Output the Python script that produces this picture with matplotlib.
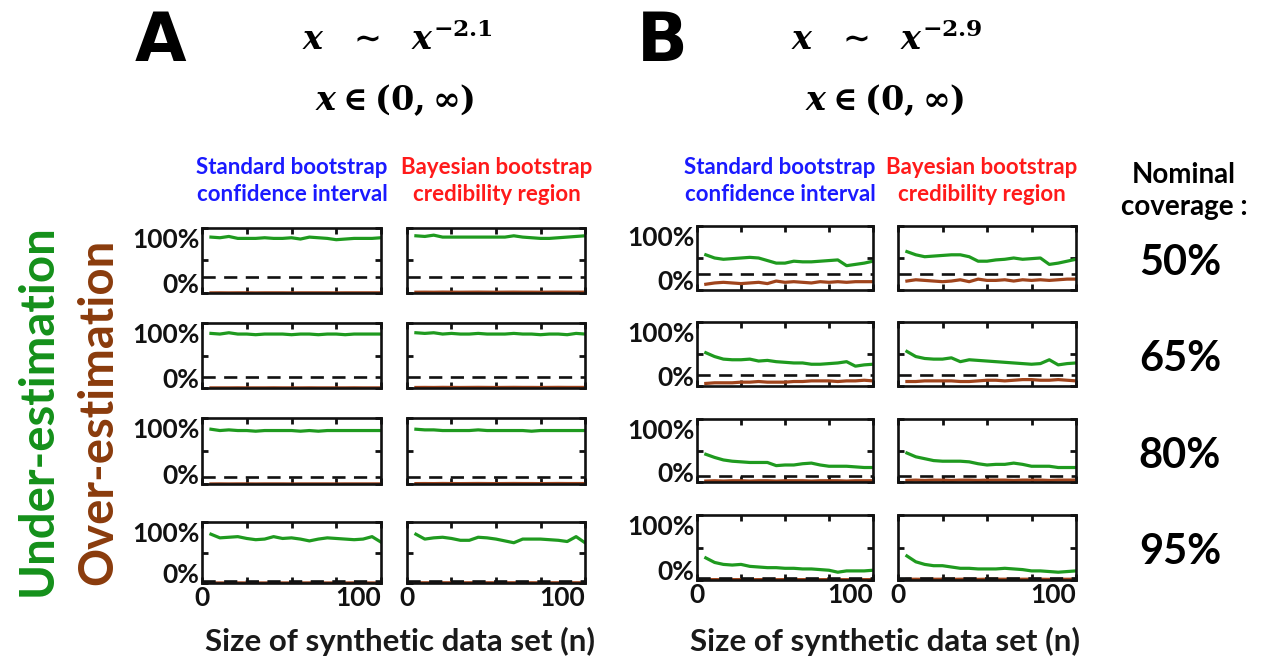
import matplotlib
matplotlib.use("Agg")
import matplotlib.pyplot as plt

plt.rcParams['font.family'] = ['Lato', 'DejaVu Sans']
plt.rcParams['font.weight'] = 'bold'
plt.rcParams['mathtext.fontset'] = 'custom'
plt.rcParams['mathtext.it'] = 'DejaVu Serif:italic:bold'
plt.rcParams['mathtext.rm'] = 'DejaVu Serif:bold'
plt.rcParams['mathtext.bf'] = 'DejaVu Serif:bold'

# sample sizes of the synthetic data sets
n = [5, 10, 15, 20, 25, 30, 35, 40, 45, 50, 55, 60, 65, 70, 75, 80, 85, 90, 95, 100]
coverage = [50, 65, 80, 95]
coverage_labels = ["50%", "65%", "80%", "95%"]

# Panel A  (x ~ x^-2.1), under-estimation (green) rates in %
A_std_under_50 = [86, 85, 87, 84, 84, 84, 85, 84, 84, 85, 83, 86, 85, 84, 82, 83, 84, 84, 84, 85]
A_bay_under_50 = [88, 87, 89, 86, 86, 86, 86, 86, 86, 86, 86, 88, 86, 85, 84, 84, 85, 86, 87, 88]
A_std_under_65 = [84, 83, 85, 83, 83, 82, 83, 83, 83, 82, 83, 83, 82, 83, 83, 82, 83, 83, 83, 83]
A_bay_under_65 = [85, 84, 85, 83, 84, 83, 83, 84, 83, 83, 83, 84, 83, 83, 82, 83, 83, 82, 84, 83]
A_std_under_80 = [83, 81, 82, 81, 81, 80, 81, 81, 81, 81, 80, 81, 80, 81, 81, 81, 81, 81, 81, 81]
A_bay_under_80 = [83, 82, 82, 81, 81, 81, 81, 82, 81, 81, 81, 81, 81, 80, 81, 81, 81, 81, 81, 81]
A_std_under_95 = [80, 74, 75, 76, 73, 71, 72, 76, 73, 74, 72, 69, 72, 74, 73, 72, 71, 72, 76, 67]
A_bay_under_95 = [80, 72, 74, 75, 73, 70, 70, 75, 74, 72, 69, 66, 72, 72, 72, 71, 70, 68, 76, 66]

# Panel A over-estimation (brown) rates in %
A_std_over_50 = [0.2, 0.3, 0.2, 0.3, 0.3, 0.2, 0.3, 0.3, 0.3, 0.2, 0.3, 0.3, 0.3, 0.3, 0.2, 0.3, 0.3, 0.3, 0.3, 0.3]
A_bay_over_50 = [1.2, 1.3, 1.2, 1.4, 1.3, 1.2, 1.3, 1.4, 1.3, 1.2, 1.3, 1.4, 1.3, 1.3, 1.2, 1.3, 1.4, 1.3, 1.3, 1.3]
A_std_over_65 = [0.2, 0.2, 0.2, 0.3, 0.2, 0.2, 0.2, 0.3, 0.2, 0.2, 0.2, 0.3, 0.2, 0.2, 0.2, 0.2, 0.3, 0.2, 0.2, 0.2]
A_bay_over_65 = [0.8, 0.9, 0.8, 1.0, 0.9, 0.8, 0.9, 1.0, 0.9, 0.8, 0.9, 1.0, 0.9, 0.9, 0.8, 0.9, 1.0, 0.9, 0.9, 0.9]
A_std_over_80 = [0.1, 0.2, 0.1, 0.2, 0.2, 0.1, 0.2, 0.2, 0.2, 0.1, 0.2, 0.2, 0.2, 0.2, 0.1, 0.2, 0.2, 0.2, 0.2, 0.2]
A_bay_over_80 = [0.6, 0.7, 0.6, 0.8, 0.7, 0.6, 0.7, 0.8, 0.7, 0.6, 0.7, 0.8, 0.7, 0.7, 0.6, 0.7, 0.8, 0.7, 0.7, 0.7]
A_std_over_95 = [0.1, 0.1, 0.1, 0.2, 0.1, 0.1, 0.1, 0.2, 0.1, 0.1, 0.1, 0.2, 0.1, 0.1, 0.1, 0.1, 0.2, 0.1, 0.1, 0.1]
A_bay_over_95 = [0.3, 0.4, 0.3, 0.4, 0.4, 0.3, 0.4, 0.4, 0.4, 0.3, 0.4, 0.4, 0.4, 0.4, 0.3, 0.4, 0.4, 0.4, 0.4, 0.4]

# Panel B  (x ~ x^-2.9), under-estimation (green) rates in %
B_std_under_50 = [55, 50, 48, 49, 50, 51, 50, 46, 42, 42, 45, 44, 44, 45, 46, 47, 38, 40, 42, 45]
B_bay_under_50 = [60, 55, 52, 53, 54, 55, 55, 52, 45, 45, 47, 48, 50, 48, 49, 50, 40, 42, 45, 48]
B_std_under_65 = [52, 46, 42, 41, 41, 42, 39, 40, 38, 37, 36, 36, 34, 34, 35, 36, 38, 31, 33, 34]
B_bay_under_65 = [54, 46, 43, 42, 42, 44, 38, 41, 40, 39, 38, 37, 36, 35, 34, 35, 41, 33, 35, 36]
B_std_under_80 = [44, 39, 35, 33, 32, 31, 31, 31, 26, 27, 27, 29, 30, 27, 25, 25, 25, 24, 23, 23]
B_bay_under_80 = [46, 40, 37, 34, 33, 33, 33, 32, 29, 27, 28, 28, 30, 28, 25, 25, 25, 23, 23, 23]
B_std_under_95 = [34, 27, 24, 23, 24, 21, 20, 19, 19, 18, 18, 17, 17, 16, 15, 12, 14, 14, 14, 15]
B_bay_under_95 = [37, 28, 24, 22, 22, 20, 18, 18, 17, 17, 17, 18, 17, 16, 14, 14, 13, 12, 13, 14]

# Panel B over-estimation (brown) rates in %
B_std_over_50 = [9, 11, 12, 11, 10, 11, 12, 10, 14, 12, 13, 12, 11, 13, 12, 13, 12, 13, 13, 13]
B_bay_over_50 = [14, 16, 15, 14, 13, 14, 16, 13, 17, 15, 15, 16, 14, 16, 15, 16, 15, 16, 17, 17]
B_std_over_65 = [4, 5, 5, 5, 6, 6, 7, 6, 6, 6, 7, 7, 8, 8, 8, 7, 8, 8, 9, 8]
B_bay_over_65 = [7, 7, 8, 8, 8, 8, 7, 7, 8, 9, 9, 8, 9, 10, 10, 9, 9, 10, 9, 8]
B_std_over_80 = [1.5, 2, 1.5, 2, 2, 1.5, 2, 2, 1.5, 2, 2, 2, 1.5, 2, 2, 2, 1.5, 2, 2, 2]
B_bay_over_80 = [2.5, 3, 2.5, 3, 3, 2.5, 3, 3, 2.5, 3, 3, 3, 2.5, 3, 3, 3, 2.5, 3, 3, 3]
B_std_over_95 = [0.5, 0.6, 0.5, 0.6, 0.6, 0.5, 0.6, 0.6, 0.5, 0.6, 0.6, 0.6, 0.5, 0.6, 0.6, 0.6, 0.5, 0.6, 0.6, 0.6]
B_bay_over_95 = [1.0, 1.2, 1.0, 1.2, 1.2, 1.0, 1.2, 1.2, 1.0, 1.2, 1.2, 1.2, 1.0, 1.2, 1.2, 1.2, 1.0, 1.2, 1.2, 1.2]

A_under = [[A_std_under_50, A_bay_under_50], [A_std_under_65, A_bay_under_65],
           [A_std_under_80, A_bay_under_80], [A_std_under_95, A_bay_under_95]]
A_over = [[A_std_over_50, A_bay_over_50], [A_std_over_65, A_bay_over_65],
          [A_std_over_80, A_bay_over_80], [A_std_over_95, A_bay_over_95]]
B_under = [[B_std_under_50, B_bay_under_50], [B_std_under_65, B_bay_under_65],
           [B_std_under_80, B_bay_under_80], [B_std_under_95, B_bay_under_95]]
B_over = [[B_std_over_50, B_bay_over_50], [B_std_over_65, B_bay_over_65],
          [B_std_over_80, B_bay_over_80], [B_std_over_95, B_bay_over_95]]

GREEN_LINE = "#1f9a1f"
BROWN_LINE = "#a0441c"
GREEN_TXT = "#14901a"
BROWN_TXT = "#8a3b0c"
BLUE_TXT = "#1a1aff"
RED_TXT = "#ff1a1a"

W, H = 1265, 665
fig = plt.figure(figsize=(W / 100, H / 100), dpi=100)


def fx(x):
    return x / W


def fy(y):
    return 1 - y / H


def add_ax(x0, x1, y0, y1):
    return fig.add_axes([x0 / W, 1 - y1 / H, (x1 - x0) / W, (y1 - y0) / H])


def draw_panel(ax, under, over, cov, left, bottom):
    ax.plot(n, under, color=GREEN_LINE, lw=2.3)
    ax.plot(n, over, color=BROWN_LINE, lw=2.3)
    ax.axhline((100 - cov) / 2, color="#111111", lw=1.9, ls=(0, (5, 3.2)))
    ax.set_xlim(0, 100)
    ax.set_ylim(0, 100)
    ax.set_xticks([0, 25, 50, 75, 100])
    ax.set_yticks([0, 50, 100])
    ax.tick_params(direction="in", length=4, width=2, top=True, right=True,
                   labelsize=19, pad=2, colors="#111111")
    for s in ax.spines.values():
        s.set_linewidth(1.9)
        s.set_color("#111111")
    if bottom:
        ax.set_xticklabels(["0", "", "", "", "100"])
        ax.get_xticklabels()[4].set_ha("right")
    else:
        ax.set_xticklabels([])
    if left:
        ax.set_yticklabels(["0%", "", "100%"])
        labs = ax.get_yticklabels()
        labs[0].set_va("baseline")
        labs[2].set_va("top")
    else:
        ax.set_yticklabels([])


colsA = [(202, 381), (407, 585)]
rowsA = [(228, 293), (323, 388), (418, 484), (522, 583)]
colsB = [(697, 873), (898, 1076)]
rowsB = [(226, 290), (322, 386), (419, 482), (515, 580)]

for panel_cols, panel_rows, under, over in [(colsA, rowsA, A_under, A_over),
                                             (colsB, rowsB, B_under, B_over)]:
    for r, (y0, y1) in enumerate(panel_rows):
        for c, (x0, x1) in enumerate(panel_cols):
            ax = add_ax(x0, x1, y0, y1)
            draw_panel(ax, under[r][c], over[r][c], coverage[r],
                       left=(c == 0), bottom=(r == 3))

# panel letters and distributions
fig.text(fx(160), fy(42), "A", fontsize=48, fontweight="heavy",
         family="DejaVu Sans", ha="center", va="center")
fig.text(fx(662), fy(42), "B", fontsize=48, fontweight="heavy",
         family="DejaVu Sans", ha="center", va="center")
fig.text(fx(397), fy(38), r"$x\ \ \sim\ \ x^{-2.1}$", fontsize=24, ha="center", va="center")
fig.text(fx(395), fy(100), r"$x \in (\mathbf{0}, \infty)$", fontsize=24, ha="center", va="center")
fig.text(fx(887), fy(38), r"$x\ \ \sim\ \ x^{-2.9}$", fontsize=24, ha="center", va="center")
fig.text(fx(885), fy(100), r"$x \in (\mathbf{0}, \infty)$", fontsize=24, ha="center", va="center")

# column titles
for cx, txt, col in [(292, "Standard bootstrap\nconfidence interval", BLUE_TXT),
                     (497, "Bayesian bootstrap\ncredibility region", RED_TXT),
                     (780, "Standard bootstrap\nconfidence interval", BLUE_TXT),
                     (982, "Bayesian bootstrap\ncredibility region", RED_TXT)]:
    fig.text(fx(cx), fy(181), txt, fontsize=16, color=col, ha="center", va="center",
             linespacing=1.4)

# side labels
fig.text(fx(38), fy(410), "Under-estimation", fontsize=34, color=GREEN_TXT,
         rotation=90, ha="center", va="center")
fig.text(fx(98), fy(412), "Over-estimation", fontsize=34, color=BROWN_TXT,
         rotation=90, ha="center", va="center")

# nominal coverage labels
fig.text(fx(1184), fy(191), "Nominal\ncoverage :", fontsize=20, ha="center", va="center",
         linespacing=1.3)
for (y0, y1), lab in zip(rowsB, coverage_labels):
    fig.text(fx(1180), fy((y0 + y1) / 2 + 5), lab, fontsize=30, ha="center", va="center")

# x-axis titles
fig.text(fx(400), fy(641), "Size of synthetic data set (n)", fontsize=22.5,
         color="#1a1a1a", ha="center", va="center")
fig.text(fx(885), fy(641), "Size of synthetic data set (n)", fontsize=22.5,
         color="#1a1a1a", ha="center", va="center")

fig.savefig("out.png", dpi=100)
